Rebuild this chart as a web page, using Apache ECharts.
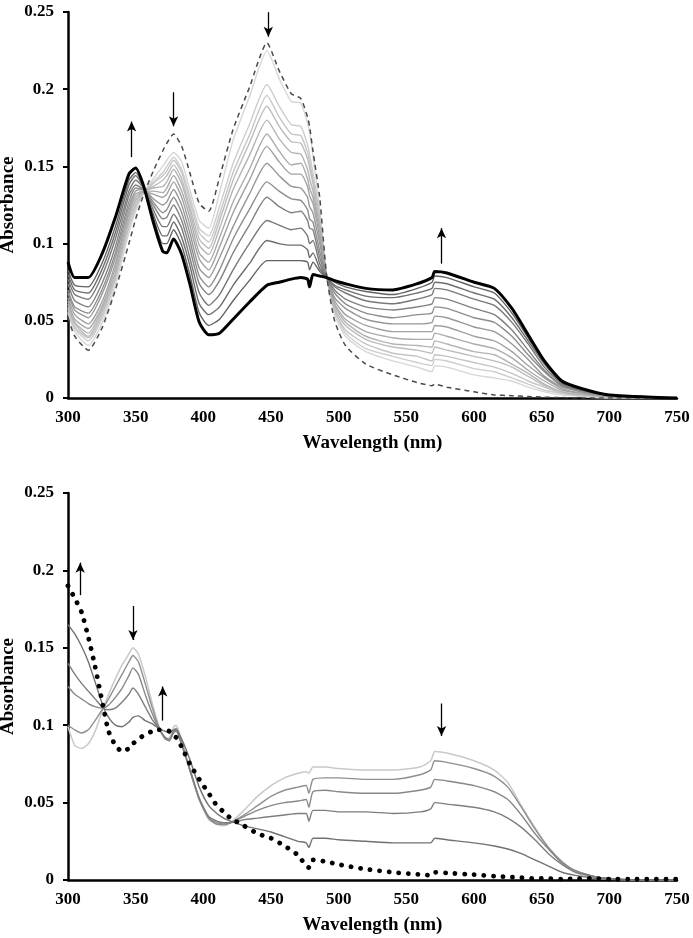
<!DOCTYPE html>
<html><head><meta charset="utf-8">
<script src="https://cdn.jsdelivr.net/npm/echarts@6/dist/echarts.min.js"></script>
<style>html,body{margin:0;padding:0;background:#fff}#c{width:693px;height:938px}</style>
</head><body><div id="c"></div>
<script>
// ---------- TOP PANEL ----------
const topWl = [300,305,315,325,335, 345,350,356,363,370, 373,378,384,390,397, 404,412,422,434,447, 456,465,472,477,478.5, 481,486,491,497,505, 520,540,558,569,571, 580,600,615,628,640, 652,665,680,700,750];
const topInitial = [.052,.040,.031,.045,.070, .100,.116,.132,.147,.160, .165,.171,.163,.146,.126, .121,.143,.174,.201,.230, .212,.197,.194,.182,.176, .160,.130,.080,.050,.034, .022,.015,.010,.008,.009, .007,.004,.002,.0015,.001, .0005,.0003,0,0,0];
const topStep1 = [.055,.043,.034,.048,.073, .107,.121,.133,.142,.150, .154,.159,.153,.135,.115, .110,.133,.167,.195,.225, .207,.192,.191,.178,.172, .157,.122,.080,.054,.040, .030,.024,.020,.017,.021, .020,.015,.013,.011,.007, .004,.002,.001,0,0];
const topStep2 = [.056,.045,.037,.051,.076, .110,.123,.133,.140,.146, .150,.156,.148,.131,.110, .105,.124,.152,.177,.203, .189,.177,.176,.164,.158, .146,.119,.080,.056,.042, .032,.027,.023,.021,.025, .024,.019,.017,.013,.009, .005,.003,.001,0,0];
const topStep3 = [.058,.046,.039,.053,.078, .111,.124,.133,.139,.144, .147,.154,.146,.128,.107, .101,.119,.146,.170,.196, .182,.171,.170,.159,.153, .142,.117,.080,.057,.044, .035,.029,.027,.024,.028, .027,.023,.020,.016,.011, .007,.003,.002,.001,0];
const topStep4 = [.059,.048,.040,.055,.079, .114,.126,.134,.137,.141, .144,.151,.142,.124,.103, .097,.115,.141,.165,.189, .176,.166,.165,.155,.149, .139,.114,.079,.058,.047, .038,.033,.031,.029,.033, .031,.027,.024,.020,.014, .008,.004,.002,.001,0];
const topStep5 = [.061,.049,.042,.057,.081, .116,.128,.134,.136,.137, .140,.148,.139,.121,.099, .093,.110,.135,.157,.180, .168,.159,.158,.148,.142, .134,.111,.079,.060,.049, .040,.035,.034,.033,.037, .035,.030,.028,.022,.016, .009,.004,.002,.001,0];
const topStep6 = [.063,.051,.045,.059,.084, .119,.130,.134,.134,.133, .136,.144,.134,.117,.094, .088,.104,.127,.148,.171, .160,.151,.152,.142,.136, .130,.108,.079,.061,.051, .043,.039,.038,.038,.042, .040,.035,.032,.026,.018, .011,.005,.003,.001,0];
const topStep7 = [.065,.054,.048,.062,.087, .121,.132,.134,.132,.130, .132,.140,.130,.112,.090, .083,.098,.120,.141,.163, .153,.145,.145,.137,.131, .126,.104,.079,.063,.054, .047,.043,.043,.043,.047, .046,.040,.037,.030,.021, .013,.006,.003,.001,0];
const topStep8 = [.068,.057,.052,.067,.091, .124,.134,.135,.129,.125, .127,.135,.125,.107,.084, .078,.091,.111,.132,.152, .144,.137,.136,.130,.124, .120,.100,.079,.065,.058, .051,.048,.048,.049,.053, .052,.046,.043,.035,.025, .014,.007,.004,.001,0];
const topStep9 = [.070,.059,.055,.070,.094, .127,.136,.135,.127,.120, .122,.130,.120,.102,.079, .072,.083,.103,.122,.140, .134,.129,.128,.122,.116, .114,.095,.079,.068,.061, .055,.052,.054,.055,.059, .058,.052,.049,.040,.028, .017,.008,.004,.002,0];
const topStep10 = [.074,.063,.059,.074,.098, .131,.138,.135,.125,.116, .117,.125,.115,.097,.074, .067,.076,.094,.112,.130, .124,.120,.121,.115,.110, .109,.091,.078,.070,.064, .059,.057,.059,.061,.065, .064,.058,.054,.044,.031, .018,.008,.005,.002,0];
const topStep11 = [.077,.067,.064,.079,.103, .134,.141,.136,.122,.111, .111,.119,.110,.091,.068, .060,.067,.083,.100,.115, .112,.109,.110,.105,.100, .102,.087,.078,.072,.068, .063,.061,.064,.067,.071, .070,.064,.060,.049,.035, .020,.009,.005,.002,0];
const topStep12 = [.080,.070,.068,.083,.107, .138,.144,.136,.119,.105, .105,.114,.104,.086,.061, .054,.059,.073,.087,.102, .100,.099,.099,.096,.091, .094,.084,.078,.073,.070, .066,.065,.068,.071,.075, .074,.068,.064,.052,.037, .022,.010,.005,.002,0];
const topStep13 = [.083,.073,.072,.087,.111, .141,.146,.137,.117,.100, .100,.109,.099,.080,.055, .047,.051,.063,.076,.089, .089,.089,.089,.088,.083, .088,.082,.078,.075,.072, .069,.067,.071,.075,.079, .078,.072,.068,.055,.039, .023,.010,.006,.002,0];
const topFinal = [.088,.078,.078,.093,.117, .145,.149,.137,.114,.095, .094,.103,.093,.074,.049, .041,.042,.051,.062,.073, .075,.077,.078,.077,.072, .080,.079,.078,.076,.074, .071,.070,.074,.078,.082, .081,.075,.071,.058,.041, .024,.011,.006,.002,0];
const topSteps = [topStep1,topStep2,topStep3,topStep4,topStep5,topStep6,topStep7,topStep8,topStep9,topStep10,topStep11,topStep12,topStep13];

// ---------- BOTTOM PANEL ----------
const botWl = [300,305,310,315,320, 326,330,335,340,345, 348,352,357,362,367, 372,375,378,380,384, 390,397,404,410,415, 420,430,440,450,460, 470,476,478,481,490, 500,520,540,560,568, 571,580,600,615,625, 635,645,655,665,675, 690,700,720,750];
const botInitial = [.099,.087,.085,.088,.096, .111,.120,.130,.139,.146, .150,.146,.132,.115,.100, .091,.092,.099,.100,.090, .071,.052,.039,.036,.035, .037,.045,.054,.061,.066, .069,.070,.069,.073,.073, .072,.071,.071,.073,.077, .083,.082,.077,.071,.063, .048,.034,.021,.011,.005, .001,.0005,0,0];
const botStep2 = [.100,.097,.095,.097,.103, .111,.117,.125,.133,.141, .145,.141,.127,.112,.099, .091,.090,.097,.098,.089, .071,.052,.040,.036,.036, .037,.042,.048,.054,.058, .060,.061,.056,.065,.066, .066,.065,.065,.068,.071, .077,.076,.072,.067,.060, .047,.033,.021,.012,.006, .002,.001,0,0];
const botStep3 = [.125,.120,.117,.114,.112, .111,.113,.118,.124,.132, .137,.133,.120,.108,.098, .091,.090,.096,.097,.088, .071,.052,.040,.037,.036, .037,.041,.045,.048,.050, .051,.052,.047,.057,.058, .057,.056,.056,.058,.060, .065,.064,.061,.057,.052, .042,.030,.020,.011,.006, .002,.001,0,0];
const botStep4 = [.140,.133,.127,.122,.117, .111,.110,.111,.115,.120, .124,.120,.112,.104,.098, .092,.091,.095,.096,.087, .072,.053,.041,.038,.037, .037,.039,.040,.041,.042, .043,.043,.038,.045,.045, .044,.044,.043,.044,.046, .050,.049,.047,.044,.040, .034,.026,.017,.010,.005, .002,.001,0,0];
const botStep5 = [.165,.159,.151,.141,.128, .112,.105,.100,.099,.102, .105,.106,.103,.101,.098, .096,.095,.097,.097,.091, .078,.060,.048,.043,.040, .038,.035,.033,.031,.028, .025,.024,.021,.027,.027, .026,.025,.024,.024,.024, .027,.026,.024,.022,.020, .017,.013,.009,.005,.003, .001,.0005,0,0];
const botFinal = [.190,.182,.173,.157,.138, .112,.096,.087,.083,.085, .088,.091,.094,.096,.097, .097,.096,.093,.092,.086, .075,.065,.056,.048,.044, .040,.035,.030,.027,.022, .016,.009,.008,.013,.012, .010,.007,.005,.0035,.003, .005,.0045,.0035,.0025,.002, .0015,.001,.001,.0005,.0008, .001,.0005,.0005,.0005];
const botSteps = [botStep2,botStep3,botStep4,botStep5];

// ---------- AXES / ANNOTATIONS ----------
const yTickLabels = ['0','0.05','0.1','0.15','0.2','0.25'];
const topArrowX = [347, 378, 448, 576];
const topArrowFrom = [0.156, 0.198, 0.2499, 0.087];
const topArrowTo = [0.179, 0.176, 0.234, 0.110];
const botArrowX = [309, 348, 370, 576];
const botArrowFrom = [0.184, 0.177, 0.103, 0.114];
const botArrowTo = [0.205, 0.155, 0.125, 0.093];

const topGrayColors = ['#d6d6d6','#cdcdcd','#c5c5c5','#bdbdbd','#b4b4b4','#ababab','#a1a1a1','#979797','#8d8d8d','#828282','#787878','#6d6d6d','#626262'];
const botGrayColors = ['#8f8f8f','#888888','#7e7e7e','#717171'];

const FONT = '"Liberation Serif","Times New Roman",serif';
const txt = {fontFamily: FONT, fontWeight: 'bold', color: '#000'};

function pairs(wl, arr){ return wl.map((w,i)=>[w, arr[i]]); }
function arrows(xs, from, to){ return xs.map((x,i)=>[{coord:[x,from[i]]},{coord:[x,to[i]]}]); }

function xAx(g){
  return {type:'value', gridIndex:g, min:300, max:750, interval:50,
    name:'Wavelength (nm)', nameLocation:'middle', nameGap:36, nameMoveOverlap:false,
    nameTextStyle:Object.assign({fontSize:19}, txt),
    axisLine:{show:true, onZero:false, lineStyle:{color:'#000', width:2.5}},
    axisTick:{show:false}, splitLine:{show:false},
    axisLabel:Object.assign({fontSize:17, margin:11}, txt)};
}
function yAx(g){
  return {type:'value', gridIndex:g, min:0, max:0.25, interval:0.05,
    name:'Absorbance', nameLocation:'middle', nameGap:50, nameMoveOverlap:false,
    nameTextStyle:Object.assign({fontSize:19}, txt),
    axisLine:{show:true, lineStyle:{color:'#000', width:2.5}},
    axisTick:{show:true, length:5, lineStyle:{color:'#000', width:2}},
    splitLine:{show:false},
    axisLabel:Object.assign({fontSize:17, margin:14,
      formatter: v => yTickLabels[Math.round(v/0.05)]}, txt)};
}
const markStyle = {silent:true, symbol:['none','arrow'], symbolSize:[7,10],
  lineStyle:{color:'#000', width:1.3, type:'solid'}, label:{show:false}, animation:false};

const series = [];
topSteps.forEach((arr,i)=>{
  series.push({type:'line', xAxisIndex:0, yAxisIndex:0, data:pairs(topWl,arr), showSymbol:false,
    smooth:0.2, lineStyle:{color:topGrayColors[i], width:1.4}, z:2});
});
series.push({type:'line', xAxisIndex:0, yAxisIndex:0, data:pairs(topWl,topInitial), showSymbol:false,
  smooth:0.2, lineStyle:{color:'#4a4a4a', width:1.5, type:[5,4]}, z:3});
series.push({type:'line', xAxisIndex:0, yAxisIndex:0, data:pairs(topWl,topFinal), showSymbol:false,
  smooth:0.2, clip:false, lineStyle:{color:'#000', width:3}, z:4,
  markLine:Object.assign({data:arrows(topArrowX, topArrowFrom, topArrowTo)}, markStyle)});

series.push({type:'line', xAxisIndex:1, yAxisIndex:1, data:pairs(botWl,botInitial), showSymbol:false,
  smooth:0.2, lineStyle:{color:'#c9c9c9', width:1.5}, z:2});
botSteps.forEach((arr,i)=>{
  series.push({type:'line', xAxisIndex:1, yAxisIndex:1, data:pairs(botWl,arr), showSymbol:false,
    smooth:0.2, lineStyle:{color:botGrayColors[i], width:1.4}, z:2});
});
series.push({type:'line', xAxisIndex:1, yAxisIndex:1, data:pairs(botWl,botFinal), showSymbol:false,
  smooth:0.2, clip:false, lineStyle:{color:'#000', width:4.8, type:[0.1,9.5], cap:'round'}, z:4,
  markLine:Object.assign({data:arrows(botArrowX, botArrowFrom, botArrowTo)}, markStyle)});

const chart = echarts.init(document.getElementById('c'), null, {renderer:'canvas'});
chart.setOption({
  animation:false,
  backgroundColor:'#fff',
  grid:[{left:68, right:16, top:12, height:386, containLabel:false, outerBoundsMode:'none'},
        {left:68, right:16, top:493, height:387, containLabel:false, outerBoundsMode:'none'}],
  xAxis:[xAx(0), xAx(1)],
  yAxis:[yAx(0), yAx(1)],
  series: series
});
</script></body></html>
